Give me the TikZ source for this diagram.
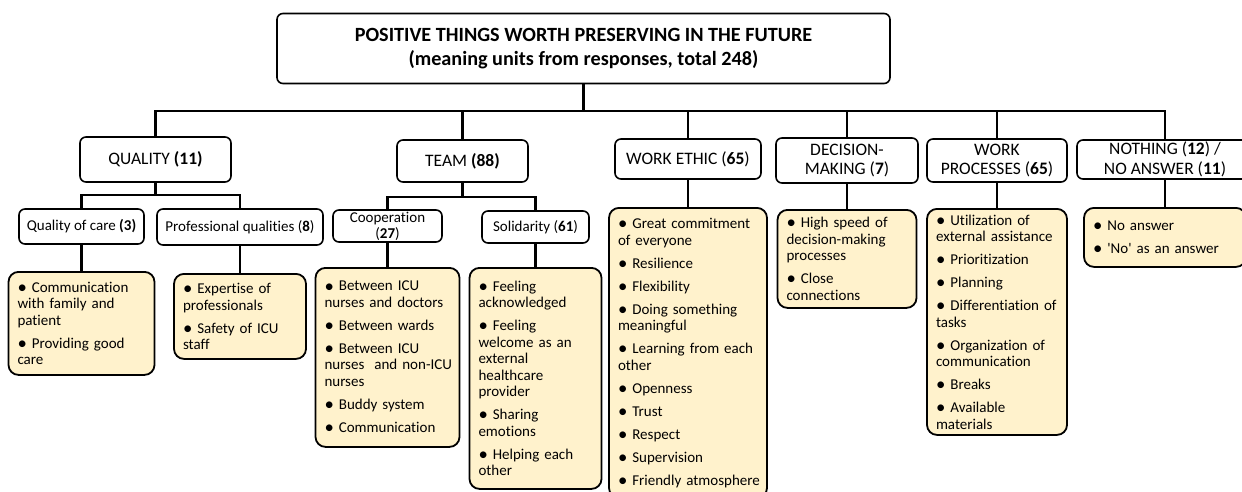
\documentclass[tikz,border=0pt]{standalone}
\usepackage{fontspec}
\setmainfont{Carlito}[Ligatures=NoCommon]
\definecolor{itemfill}{HTML}{FFF2CC}
\newcommand\bul{\raisebox{-0.07em}{\scalebox{1.25}{\textbullet}}\ }
\begin{document}
\begin{tikzpicture}[x=1pt,y=-1pt,
  box/.style={draw, line width=1.6pt, rounded corners=6pt, fill=white,
    align=center, inner sep=0pt},
  titlebox/.style={box, font=\fontsize{20.2}{23.5}\selectfont\bfseries},
  catbox/.style={box, font=\fontsize{17.5}{19.5}\selectfont},
  subbox/.style={box, font=\fontsize{15}{16}\selectfont},
  itembox/.style n args={3}{draw, line width=1.8pt, rounded corners=10pt,
    fill=itemfill, anchor=north, align=left, inner xsep=9pt, inner ysep=0pt,
    font=\fontsize{15}{16.5}\selectfont,
    execute at begin node={\rightskip=0pt plus 1fil minus 40pt\relax
      \hyphenpenalty=10000\relax},
    minimum width=#1pt, text width=#2pt, minimum height=#3pt},
  link/.style={line width=2.2pt}]
\useasboundingbox (0,0) rectangle (1242,491);
\clip (0,0) rectangle (1242,491);

% root
\node[titlebox, minimum width=613, minimum height=70] (top) at (583.5,48.5)
  {POSITIVE THINGS WORTH PRESERVING IN THE FUTURE\\
   (meaning units from responses, total 248)};

% main categories
\node[catbox, minimum width=151, minimum height=45] (quality) at (155.5,159.5)
  {QUALITY \textbf{(11)}};
\node[catbox, minimum width=131, minimum height=42] (team) at (462.5,161)
  {TEAM \textbf{(88)}};
\node[catbox, minimum width=146, minimum height=40] (ethic) at (688,159)
  {WORK ETHIC (\textbf{65})};
\node[catbox, minimum width=142, minimum height=45] (decision) at (847,160.5)
  {DECISION-\\MAKING (\textbf{7})};
\node[catbox, minimum width=140, minimum height=43] (process) at (997,160.5)
  {WORK\\PROCESSES (\textbf{65})};
\node[catbox, minimum width=176, minimum height=39] (nothing) at (1165,159.5)
  {NOTHING (\textbf{12}) /\\NO ANSWER (\textbf{11})};

% subcategories
\node[subbox, minimum width=125, minimum height=35] (qcare) at (81.5,226.5)
  {Quality of care \textbf{(3)}};
\node[subbox, minimum width=166, minimum height=36] (qprof) at (240,227)
  {Professional qualities (\textbf{8})};
\node[subbox, minimum width=109, minimum height=32] (coop) at (387.5,226)
  {Cooperation\\(\textbf{27})};
\node[subbox, minimum width=107, minimum height=32] (sol) at (535.5,227)
  {Solidarity (\textbf{61})};

% meaning units
\node[itembox={146}{128}{103}] (qcareI) at (81.5,271)
  {\bul Communication\\with family and\\patient\\[6.5pt]
   \bul Providing good\\care};
\node[itembox={132}{114}{85}] (qprofI) at (240,273)
  {\bul Expertise of\\professionals\\[6.5pt]
   \bul Safety of ICU\\staff};
\node[itembox={144}{126}{179}] (coopI) at (387.5,267)
  {\bul Between ICU\\nurses and doctors\\[6.5pt]
   \bul Between wards\\[6.5pt]
   \bul Between ICU\\nurses\ \ and non-ICU\\nurses\\[6.5pt]
   \bul Buddy system\\[6.5pt]
   \bul Communication};
\node[itembox={132}{114}{221}] (solI) at (535.5,267)
  {\bul Feeling\\acknowledged\\[6.5pt]
   \bul Feeling\\welcome as an\\external\\healthcare\\provider\\[6.5pt]
   \bul Sharing\\emotions\\[6.5pt]
   \bul Helping each\\other};
\node[itembox={158}{140}{290}] (ethicI) at (688,207)
  {\bul Great commitment\\of everyone\\[6.5pt]
   \bul Resilience\\[6.5pt]
   \bul Flexibility\\[6.5pt]
   \bul Doing something\\meaningful\\[6.5pt]
   \bul Learning from each\\other\\[6.5pt]
   \bul Openness\\[6.5pt]
   \bul Trust\\[6.5pt]
   \bul Respect\\[6.5pt]
   \bul Supervision\\[6.5pt]
   \bul Friendly atmosphere};
\node[itembox={139}{121}{98}] (decisionI) at (847,209)
  {\bul High speed of\\decision-making\\processes\\[6.5pt]
   \bul Close\\connections};
\node[itembox={140}{122}{226}] (processI) at (997,208)
  {\bul Utilization of\\external assistance\\[6.5pt]
   \bul Prioritization\\[6.5pt]
   \bul Planning\\[6.5pt]
   \bul Differentiation of\\tasks\\[6.5pt]
   \bul Organization of\\communication\\[6.5pt]
   \bul Breaks\\[6.5pt]
   \bul Available\\materials};
\node[itembox={162}{144}{59}] (nothingI) at (1165,207)
  {\bul No answer\\[6.5pt]
   \bul \textquotesingle No\textquotesingle\ as an answer};

% tree connectors
\coordinate (hub) at (583.5,111);
\draw[link] (top.south) -- (hub);
\foreach \c in {quality,team,ethic,decision,process,nothing}
  \draw[link] (hub) -| (\c.north);

\coordinate (qbus) at (155.5,195);
\draw[link] (quality.south) -- (qbus);
\draw[link] (qbus) -| (qcare.north);
\draw[link] (qbus) -| (qprof.north);

\coordinate (tbus) at (462.5,197);
\draw[link] (team.south) -- (tbus);
\draw[link] (tbus) -| (coop.north);
\draw[link] (tbus) -| (sol.north);

\draw[link] (qcare.south) -- (qcareI.north);
\draw[link] (qprof.south) -- (qprofI.north);
\draw[link] (coop.south) -- (coopI.north);
\draw[link] (sol.south) -- (solI.north);
\draw[link] (ethic.south) -- (ethicI.north);
\draw[link] (decision.south) -- (decisionI.north);
\draw[link] (process.south) -- (processI.north);
\draw[link] (nothing.south) -- (nothingI.north);
\end{tikzpicture}
\end{document}
